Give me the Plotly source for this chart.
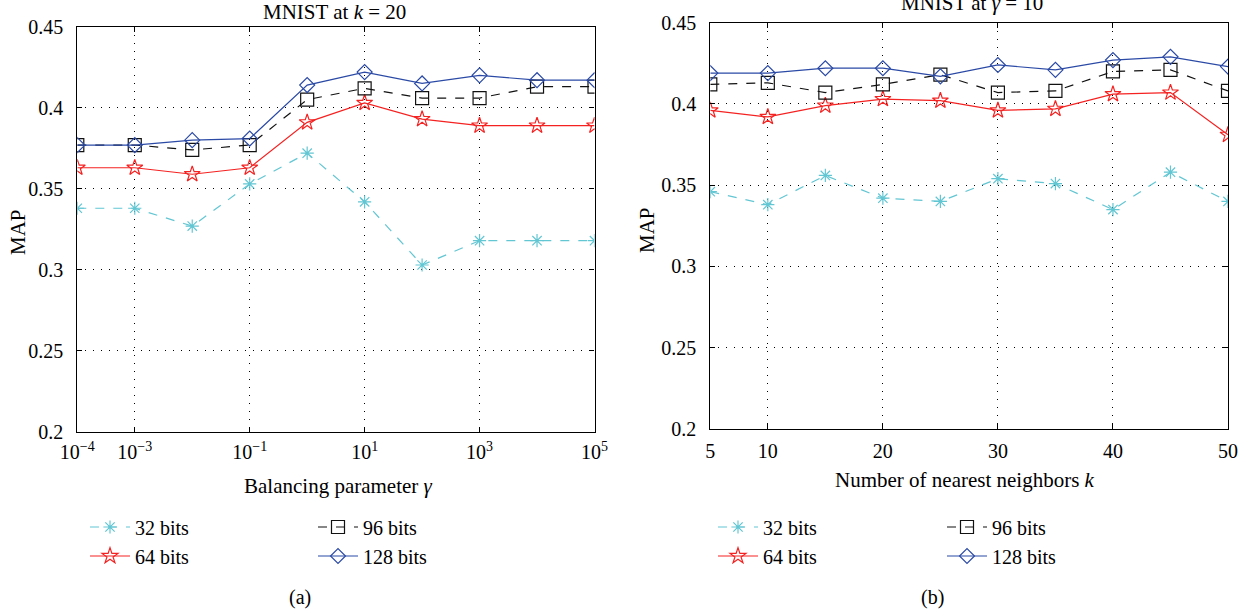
import plotly.graph_objects as go

# ---------------- data ----------------
gamma_vals = [1e-4, 1e-3, 1e-2, 1e-1, 1e0, 1e1, 1e2, 1e3, 1e4, 1e5]
left_32 = [0.338, 0.338, 0.327, 0.353, 0.372, 0.342, 0.303, 0.318, 0.318, 0.318]
left_64 = [0.363, 0.363, 0.359, 0.363, 0.391, 0.403, 0.393, 0.389, 0.389, 0.389]
left_96 = [0.377, 0.377, 0.374, 0.377, 0.405, 0.412, 0.406, 0.406, 0.413, 0.413]
left_128 = [0.377, 0.377, 0.380, 0.381, 0.414, 0.422, 0.415, 0.420, 0.417, 0.417]

k_vals = [5, 10, 15, 20, 25, 30, 35, 40, 45, 50]
right_32 = [0.346, 0.338, 0.356, 0.342, 0.340, 0.354, 0.351, 0.335, 0.358, 0.340]
right_64 = [0.396, 0.392, 0.399, 0.403, 0.402, 0.396, 0.397, 0.406, 0.407, 0.381]
right_96 = [0.412, 0.413, 0.407, 0.412, 0.418, 0.407, 0.408, 0.420, 0.421, 0.408]
right_128 = [0.419, 0.419, 0.422, 0.422, 0.417, 0.424, 0.421, 0.427, 0.429, 0.423]

series_names = ["32 bits", "64 bits", "96 bits", "128 bits"]
left_tickvals = [1e-4, 1e-3, 1e-1, 1e1, 1e3, 1e5]
left_ticktext = ["10<sup>−4</sup>", "10<sup>−3</sup>", "10<sup>−1</sup>", "10<sup>1</sup>",
                 "10<sup>3</sup>", "10<sup>5</sup>"]
right_tickvals = [5, 10, 20, 30, 40, 50]
y_tickvals = [0.2, 0.25, 0.3, 0.35, 0.4, 0.45]
y_ticktext = ["0.2", "0.25", "0.3", "0.35", "0.4", "0.45"]

# ---------------- styles ----------------
W, H = 1251, 613
FONT = "Liberation Serif, Times New Roman, serif"
styles = {
    "32 bits": dict(color="#62c6d3", dash="dash", symbol="asterisk-open", size=11),
    "64 bits": dict(color="#f52222", dash="solid", symbol="star-open", size=12),
    "96 bits": dict(color="#111111", dash="dash", symbol="square-open", size=13),
    "128 bits": dict(color="#2b4aa6", dash="solid", symbol="diamond-open", size=11.5),
}

def px_x(p):
    return p / W

def px_y(p):
    return 1 - p / H

fig = go.Figure()

left_data = {"32 bits": left_32, "64 bits": left_64, "96 bits": left_96, "128 bits": left_128}
right_data = {"32 bits": right_32, "64 bits": right_64, "96 bits": right_96, "128 bits": right_128}

legend_ids_left = {"32 bits": "legend", "96 bits": "legend2", "64 bits": "legend3", "128 bits": "legend4"}
legend_ids_right = {"32 bits": "legend5", "96 bits": "legend6", "64 bits": "legend7", "128 bits": "legend8"}

def add_series(xv, data, xa, ya, legend_ids):
    for name in series_names:
        s = styles[name]
        fig.add_trace(go.Scatter(
            x=xv, y=data[name], mode="lines+markers", name=name,
            line=dict(color=s["color"], dash=s["dash"], width=1.2),
            marker=dict(symbol=s["symbol"], size=s["size"], color=s["color"],
                        line=dict(width=1.2, color=s["color"])),
            xaxis=xa, yaxis=ya, legend=legend_ids[name], showlegend=True,
        ))

add_series(gamma_vals, left_data, "x", "y", legend_ids_left)
add_series(k_vals, right_data, "x2", "y2", legend_ids_right)

axis_common = dict(
    showline=True, linecolor="black", linewidth=1.3, mirror="ticks",
    ticks="inside", ticklen=5, tickcolor="black", tickwidth=1.2,
    showgrid=True, gridcolor="black", gridwidth=1, griddash="1px,7px",
    zeroline=False, tickfont=dict(family=FONT, size=20, color="black"),
)

# pixel boxes of the two plot areas
L_x0, L_x1, L_top, L_bot = 77.3, 594.5, 26.7, 432.0
R_x0, R_x1, R_top, R_bot = 710.3, 1228.0, 22.7, 429.0

fig.update_layout(
    width=W, height=H, margin=dict(l=0, r=0, t=0, b=0, autoexpand=False),
    paper_bgcolor="white", plot_bgcolor="white",
    font=dict(family=FONT, size=20, color="black"),
    xaxis=dict(axis_common, type="log", range=[-4, 5], tickvals=left_tickvals, ticktext=left_ticktext,
               domain=[px_x(L_x0), px_x(L_x1)], anchor="y", ticklabelstandoff=2),
    yaxis=dict(axis_common, range=[0.2, 0.45], tickvals=y_tickvals, ticktext=y_ticktext,
               domain=[px_y(L_bot), px_y(L_top)], anchor="x", ticklabelstandoff=9),
    xaxis2=dict(axis_common, range=[5, 50], tickvals=right_tickvals,
                domain=[px_x(R_x0), px_x(R_x1)], anchor="y2", ticklabelstandoff=4),
    yaxis2=dict(axis_common, range=[0.2, 0.45], tickvals=y_tickvals, ticktext=y_ticktext,
                domain=[px_y(R_bot), px_y(R_top)], anchor="x2", ticklabelstandoff=9),
)

# legends (one per entry to reproduce the 2x2 arrangement)
leg_font = dict(family=FONT, size=20, color="black")
def leg(x_px, y_px):
    return dict(x=px_x(x_px), y=px_y(y_px), xanchor="left", yanchor="middle",
                font=leg_font, bgcolor="rgba(0,0,0,0)", borderwidth=0,
                itemwidth=40, orientation="v")

fig.update_layout(
    legend=leg(85, 527), legend2=leg(313, 527), legend3=leg(85, 556), legend4=leg(313, 556),
    legend5=leg(713, 527), legend6=leg(942, 527), legend7=leg(713, 556), legend8=leg(942, 556),
)

def ann(text, x_px, y_px, size=21, angle=0):
    fig.add_annotation(text=text, x=px_x(x_px), y=px_y(y_px), xref="paper", yref="paper",
                       showarrow=False, xanchor="center", yanchor="middle", textangle=angle,
                       font=dict(family=FONT, size=size, color="black"))

ann("MNIST at <i>k</i> = 20", 334, 12)
ann("MNIST at <i>γ</i> = 10", 972, 3)
ann("Balancing parameter <i>γ</i>", 338, 486)
ann("Number of nearest neighbors <i>k</i>", 965, 480)
ann("MAP", 18, 232, angle=-90)
ann("MAP", 647, 230, angle=-90)
ann("(a)", 300, 597, size=20)
ann("(b)", 932, 597, size=20)

fig.write_html("out.html")
